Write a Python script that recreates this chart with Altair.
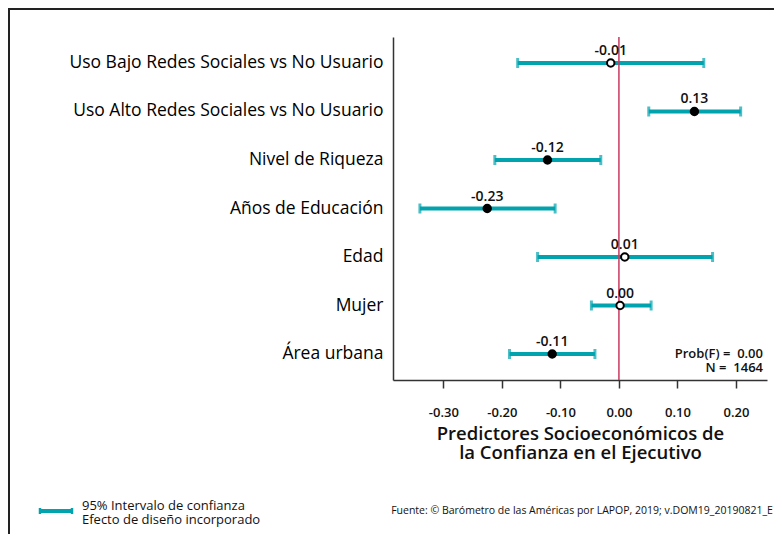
import altair as alt
import pandas as pd

categories = [
    "Uso Bajo Redes Sociales vs No Usuario",
    "Uso Alto Redes Sociales vs No Usuario",
    "Nivel de Riqueza",
    "Años de Educación",
    "Edad",
    "Mujer",
    "Área urbana",
]
coef = [-0.014, 0.129, -0.122, -0.225, 0.010, 0.002, -0.114]
ci_low = [-0.173, 0.051, -0.212, -0.340, -0.139, -0.047, -0.187]
ci_high = [0.145, 0.208, -0.031, -0.109, 0.160, 0.055, -0.041]
labels = ["-0.01", "0.13", "-0.12", "-0.23", "0.01", "0.00", "-0.11"]
significant = [False, True, True, True, False, False, True]
tick_values = [-0.3, -0.2, -0.1, 0.0, 0.1, 0.2]

df = pd.DataFrame({
    "cat": categories,
    "coef": coef,
    "lo": ci_low,
    "hi": ci_high,
    "label": labels,
    "sig": ["yes" if s else "no" for s in significant],
})

TEAL = "#00a3ae"
FONT = "Open Sans"
NB = "\u00a0"
W, H = 374, 343

xscale = alt.Scale(domain=[-0.386, 0.253], nice=False, zero=False)
yscale = alt.Scale(paddingInner=0, paddingOuter=0.036)
yenc = alt.Y(
    "cat:N",
    sort=categories,
    scale=yscale,
    axis=alt.Axis(
        title=None, ticks=False, labelFontSize=17.5, labelFont=FONT, labelFontWeight=500,
        labelColor="#000", labelPadding=10, domainColor="#333", domainWidth=1.5,
        labelLimit=400,
    ),
)
xenc = alt.X(
    "lo:Q",
    scale=xscale,
    axis=alt.Axis(
        values=tick_values,
        labelExpr="replace(format(datum.value, '.2f'), '\u2212', '-')",
        labelFontSize=13, labelFont=FONT, labelFontWeight=600, labelColor="#111",
        tickSize=8, tickWidth=1.5, tickColor="#333", domainColor="#333", domainWidth=1.5,
        labelPadding=18, grid=False,
        title=["Predictores Socioeconómicos de", "la Confianza en el Ejecutivo"],
        titleFontSize=18.5, titleFont=FONT, titleFontWeight=600, titleColor="#111",
        titlePadding=5, titleLineHeight=19.5,
    ),
)

ycat = alt.Y("cat:N", sort=categories, scale=yscale)
base = alt.Chart(df)

zero_line = alt.Chart(pd.DataFrame({"z": [0.0]})).mark_rule(
    color="#c9385f", strokeWidth=1.5
).encode(x=alt.X("z:Q", scale=xscale))

bars = base.mark_rule(color=TEAL, strokeWidth=4).encode(x=xenc, x2="hi:Q", y=yenc)
cap_lo = base.mark_tick(color=TEAL, thickness=3, size=10).encode(
    x=alt.X("lo:Q", scale=xscale), y=ycat)
cap_hi = base.mark_tick(color=TEAL, thickness=3, size=10).encode(
    x=alt.X("hi:Q", scale=xscale), y=ycat)

points = base.mark_point(filled=True, size=55, stroke="black", strokeWidth=2, opacity=1).encode(
    x=alt.X("coef:Q", scale=xscale),
    y=ycat,
    fill=alt.Fill("sig:N", scale=alt.Scale(domain=["yes", "no"], range=["black", "white"]), legend=None),
)

value_text = base.mark_text(dy=-12, fontSize=14, font=FONT, fontWeight=600, color="#111").encode(
    x=alt.X("coef:Q", scale=xscale),
    y=ycat,
    text="label:N",
)

stats = alt.Chart(pd.DataFrame({
    "t": ["Prob(F)" + NB + "=" + NB + NB + "0.00", "N" + NB + "=" + NB + NB + "1464"],
    "py": [317, 331],
})).mark_text(
    align="right", fontSize=13, font=FONT, fontWeight=600, color="#111", baseline="middle"
).encode(x=alt.value(370), y=alt.Y("py:Q", scale=None), text="t:N")

legend_line = alt.Chart(pd.DataFrame({"a": [0]})).mark_rule(color=TEAL, strokeWidth=4).encode(
    x=alt.value(-353), x2=alt.value(-321), y=alt.value(474))
legend_caps = alt.Chart(pd.DataFrame({"px": [-353, -321]})).mark_rule(color=TEAL, strokeWidth=2.5).encode(
    x=alt.X("px:Q", scale=None), y=alt.value(471), y2=alt.value(477))
legend_text = alt.Chart(pd.DataFrame({
    "t": ["95% Intervalo de confianza", "Efecto de diseño incorporado"], "py": [468.5, 482.5]
})).mark_text(align="left", baseline="middle", fontSize=13, font=FONT, fontWeight=500, color="#111").encode(
    x=alt.value(-311), y=alt.Y("py:Q", scale=None), text="t:N")

source = alt.Chart(pd.DataFrame({"t": ["Fuente: © Barómetro de las Américas por LAPOP, 2019; v.DOM19_20190821_E"]})).mark_text(
    align="center", baseline="middle", fontSize=10.5, font=FONT, color="#111"
).encode(x=alt.value(189), y=alt.value(474), text="t:N")

frame_top = alt.Chart(pd.DataFrame({"a": [0]})).mark_rule(color="#222", strokeWidth=2).encode(
    x=alt.value(-385), x2=alt.value(400), y=alt.value(-28))
frame_left = alt.Chart(pd.DataFrame({"a": [0]})).mark_rule(color="#222", strokeWidth=2).encode(
    x=alt.value(-384), y=alt.value(-29), y2=alt.value(530))

chart = alt.layer(
    frame_top, frame_left, bars, zero_line, cap_lo, cap_hi, points, value_text, stats,
    legend_line, legend_caps, legend_text, source,
).properties(
    width=W, height=H,
    padding={"left": 385, "top": 29, "right": 7, "bottom": 154},
    autosize=alt.AutoSizeParams(type="none"),
    background="white",
).configure_view(stroke=None)

chart.save("out.html", embed_options={"renderer": "svg", "actions": False})
